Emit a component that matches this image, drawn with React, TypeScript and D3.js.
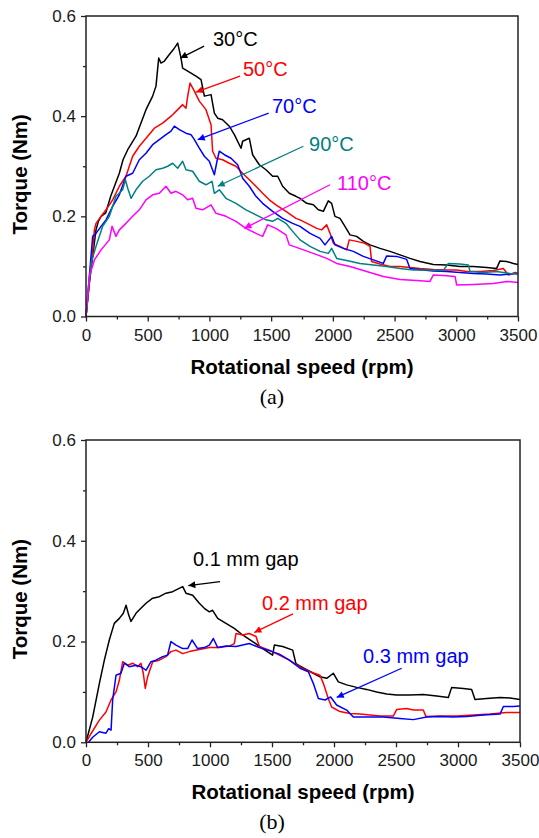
import React, { useEffect, useRef } from "react";
import * as d3 from "d3";

type Pt = [number, number];

// axis ticks
const rpmTicks = [0, 500, 1000, 1500, 2000, 2500, 3000, 3500];
const rpmMinor = [250, 750, 1250, 1750, 2250, 2750, 3250];
const torqueTicks = [0, 0.2, 0.4, 0.6];
const torqueMinor = [0.1, 0.3, 0.5];

// (a) torque vs speed at different temperatures  [rpm, Nm]
const temp30: Pt[] = [[0,0],[27,0.066],[54,0.12],[81,0.173],[100,0.19],[122,0.2],[160,0.207],[200,0.24],[270,0.286],[300,0.313],[338,0.333],[405,0.36],[486,0.413],[540,0.44],[567,0.46],[589,0.516],[608,0.506],[635,0.51],[675,0.523],[708,0.533],[743,0.546],[770,0.516],[783,0.496],[824,0.49],[891,0.48],[932,0.473],[959,0.44],[1013,0.443],[1040,0.406],[1067,0.396],[1107,0.393],[1161,0.38],[1202,0.363],[1256,0.336],[1269,0.35],[1323,0.356],[1350,0.323],[1404,0.303],[1458,0.293],[1512,0.28],[1553,0.28],[1593,0.26],[1647,0.246],[1701,0.24],[1734,0.236],[1788,0.226],[1842,0.223],[1882,0.213],[1923,0.21],[1963,0.231],[1990,0.226],[2017,0.2],[2058,0.196],[2098,0.18],[2139,0.163],[2193,0.16],[2247,0.15],[2301,0.143],[2382,0.136],[2463,0.13],[2544,0.123],[2625,0.116],[2706,0.11],[2814,0.104],[2922,0.103],[3030,0.1],[3138,0.1],[3246,0.098],[3327,0.096],[3354,0.111],[3408,0.11],[3462,0.106],[3500,0.104]];
const temp50: Pt[] = [[0,0],[27,0.07],[54,0.13],[68,0.173],[81,0.186],[122,0.2],[162,0.213],[216,0.233],[270,0.26],[324,0.28],[378,0.32],[432,0.34],[500,0.36],[554,0.376],[621,0.386],[689,0.4],[743,0.413],[783,0.423],[810,0.416],[824,0.44],[843,0.466],[878,0.45],[918,0.43],[972,0.413],[1013,0.383],[1026,0.33],[1053,0.316],[1107,0.313],[1161,0.306],[1215,0.3],[1269,0.286],[1323,0.273],[1377,0.26],[1431,0.246],[1485,0.233],[1539,0.223],[1620,0.21],[1701,0.196],[1734,0.193],[1815,0.183],[1869,0.176],[1909,0.173],[1950,0.183],[1977,0.166],[2004,0.146],[2058,0.14],[2112,0.133],[2133,0.153],[2193,0.15],[2260,0.146],[2301,0.14],[2314,0.11],[2382,0.105],[2463,0.1],[2544,0.1],[2625,0.098],[2706,0.096],[2814,0.094],[2922,0.093],[3003,0.093],[3084,0.09],[3192,0.09],[3300,0.092],[3381,0.096],[3422,0.083],[3476,0.088],[3500,0.086]];
const temp70: Pt[] = [[0,0],[27,0.08],[54,0.16],[81,0.166],[122,0.18],[162,0.193],[216,0.22],[270,0.243],[324,0.28],[378,0.286],[432,0.313],[486,0.326],[540,0.343],[594,0.353],[648,0.363],[689,0.37],[716,0.38],[756,0.373],[810,0.366],[851,0.363],[878,0.353],[918,0.336],[959,0.32],[999,0.31],[1040,0.283],[1061,0.31],[1080,0.33],[1121,0.323],[1175,0.316],[1229,0.303],[1269,0.276],[1323,0.26],[1377,0.24],[1431,0.226],[1512,0.21],[1593,0.196],[1674,0.186],[1734,0.18],[1815,0.166],[1896,0.156],[1936,0.143],[1990,0.16],[2017,0.143],[2085,0.136],[2166,0.13],[2247,0.12],[2328,0.113],[2409,0.106],[2436,0.121],[2517,0.12],[2598,0.114],[2625,0.096],[2733,0.093],[2814,0.091],[2922,0.09],[3030,0.088],[3138,0.086],[3246,0.085],[3354,0.083],[3435,0.085],[3500,0.086]];
const temp90: Pt[] = [[0,0],[40,0.106],[81,0.14],[135,0.18],[189,0.2],[243,0.24],[297,0.253],[319,0.273],[338,0.256],[365,0.236],[405,0.253],[459,0.27],[513,0.28],[567,0.293],[621,0.296],[662,0.3],[702,0.306],[743,0.296],[783,0.31],[810,0.293],[864,0.29],[918,0.27],[972,0.263],[1021,0.27],[1040,0.246],[1080,0.253],[1134,0.236],[1215,0.226],[1296,0.213],[1377,0.203],[1458,0.193],[1512,0.19],[1553,0.196],[1620,0.186],[1674,0.17],[1734,0.153],[1815,0.14],[1896,0.13],[1963,0.126],[1990,0.136],[2031,0.116],[2112,0.112],[2220,0.106],[2328,0.103],[2436,0.1],[2544,0.096],[2652,0.093],[2760,0.093],[2895,0.092],[2936,0.106],[3030,0.105],[3098,0.103],[3111,0.09],[3219,0.088],[3327,0.09],[3435,0.086],[3500,0.085]];
const temp110: Pt[] = [[0,0],[27,0.08],[68,0.113],[122,0.133],[189,0.153],[211,0.18],[243,0.16],[270,0.173],[324,0.186],[378,0.2],[432,0.213],[486,0.233],[540,0.243],[594,0.246],[648,0.26],[689,0.246],[729,0.25],[783,0.243],[824,0.233],[864,0.236],[891,0.216],[945,0.213],[1013,0.223],[1053,0.206],[1134,0.2],[1215,0.19],[1296,0.176],[1377,0.166],[1431,0.16],[1472,0.183],[1539,0.176],[1620,0.163],[1647,0.143],[1728,0.136],[1842,0.126],[1950,0.116],[2031,0.106],[2139,0.1],[2274,0.09],[2409,0.08],[2544,0.074],[2679,0.072],[2787,0.07],[2814,0.083],[2895,0.082],[2990,0.08],[3003,0.063],[3138,0.064],[3300,0.066],[3408,0.07],[3500,0.068]];

// (b) torque vs speed at different gaps
const gap01: Pt[] = [[0,0],[54,0.05],[108,0.117],[148,0.163],[188,0.203],[228,0.236],[269,0.246],[301,0.256],[323,0.272],[344,0.253],[363,0.24],[403,0.256],[443,0.266],[484,0.276],[538,0.286],[591,0.289],[645,0.296],[699,0.299],[739,0.304],[780,0.309],[806,0.296],[860,0.292],[914,0.276],[954,0.266],[995,0.259],[1021,0.262],[1062,0.246],[1129,0.236],[1196,0.226],[1263,0.213],[1344,0.2],[1425,0.186],[1505,0.173],[1519,0.193],[1586,0.19],[1667,0.183],[1693,0.156],[1720,0.152],[1780,0.144],[1833,0.137],[1887,0.13],[1941,0.127],[1995,0.137],[2035,0.12],[2102,0.114],[2183,0.109],[2263,0.105],[2344,0.1],[2425,0.096],[2505,0.094],[2613,0.094],[2720,0.095],[2828,0.092],[2922,0.089],[2949,0.109],[3043,0.107],[3110,0.105],[3137,0.085],[3231,0.087],[3339,0.089],[3419,0.088],[3500,0.085]];
const gap02: Pt[] = [[0,0],[40,0.017],[108,0.044],[161,0.06],[202,0.084],[242,0.1],[269,0.123],[296,0.16],[336,0.153],[376,0.157],[417,0.15],[443,0.157],[462,0.137],[478,0.107],[497,0.13],[538,0.16],[591,0.163],[645,0.17],[685,0.18],[726,0.183],[780,0.176],[833,0.18],[914,0.184],[995,0.188],[1075,0.188],[1156,0.191],[1196,0.196],[1210,0.216],[1263,0.213],[1317,0.216],[1371,0.21],[1398,0.19],[1478,0.183],[1559,0.173],[1640,0.163],[1720,0.15],[1806,0.14],[1887,0.133],[1914,0.117],[1954,0.087],[1981,0.07],[2048,0.061],[2129,0.057],[2210,0.056],[2290,0.054],[2371,0.052],[2478,0.052],[2505,0.065],[2586,0.067],[2640,0.064],[2720,0.064],[2742,0.051],[2855,0.052],[2989,0.052],[3124,0.054],[3258,0.056],[3392,0.059],[3500,0.059]];
const gap03: Pt[] = [[20,0],[54,0.01],[108,0.021],[161,0.018],[183,0.027],[202,0.024],[215,0.084],[242,0.133],[282,0.137],[309,0.157],[349,0.15],[403,0.153],[443,0.15],[484,0.143],[524,0.16],[564,0.163],[618,0.17],[658,0.173],[685,0.2],[726,0.193],[780,0.186],[820,0.186],[855,0.203],[900,0.186],[954,0.188],[995,0.193],[1027,0.206],[1062,0.188],[1129,0.191],[1210,0.19],[1317,0.196],[1398,0.188],[1478,0.182],[1559,0.175],[1640,0.163],[1726,0.147],[1793,0.14],[1833,0.117],[1874,0.087],[1928,0.084],[1973,0.09],[2021,0.074],[2102,0.064],[2156,0.05],[2263,0.05],[2398,0.05],[2532,0.047],[2640,0.045],[2747,0.05],[2855,0.051],[2962,0.05],[3070,0.051],[3204,0.054],[3339,0.056],[3366,0.071],[3446,0.071],[3500,0.072]];

// labels + arrows, in data units: text at, arrow from, arrow to
const tempNotes = [
  { text: "30°C", color: "#000000", at: [1029, 0.541], from: [957, 0.54], to: [764, 0.516] },
  { text: "50°C", color: "#ff0000", at: [1272, 0.481], from: [1248, 0.48], to: [891, 0.448] },
  { text: "70°C", color: "#0000ff", at: [1507, 0.407], from: [1480, 0.406], to: [905, 0.353] },
  { text: "90°C", color: "#008080", at: [1807, 0.331], from: [1761, 0.34], to: [1067, 0.26] },
  { text: "110°C", color: "#ff00ff", at: [2034, 0.253], from: [1977, 0.263], to: [1283, 0.176] },
];
const gapNotes = [
  { text: "0.1 mm gap", color: "#000000", at: [863, 0.35], from: [1081, 0.319], to: [825, 0.311] },
  { text: "0.2 mm gap", color: "#ff0000", at: [1419, 0.263], from: [1669, 0.255], to: [1357, 0.218] },
  { text: "0.3 mm gap", color: "#0000ff", at: [2234, 0.157], from: [2546, 0.147], to: [2022, 0.089] },
];

const sans = "'Liberation Sans', Arial, Helvetica, sans-serif";
const serif = "'Liberation Serif', 'Times New Roman', serif";

function drawPanel(svg, defs, box, series, notes, caption) {
  const x = d3.scaleLinear().domain([0, 3500]).range([box.left, box.right]);
  const y = d3.scaleLinear().domain([0, 0.6]).range([box.bottom, box.top]);
  const g = svg.append("g");

  const line = d3.line<Pt>().x((d) => x(d[0])).y((d) => y(d[1]));
  series.forEach((s) => {
    g.append("path")
      .datum(s.data)
      .attr("fill", "none")
      .attr("stroke", s.color)
      .attr("stroke-width", 1.5)
      .attr("stroke-linejoin", "round")
      .attr("d", line);
  });

  // axes
  const xa = g.append("g").attr("transform", `translate(0,${box.bottom})`)
    .call(d3.axisBottom(x).tickValues(rpmTicks).tickSize(5).tickPadding(7).tickFormat(d3.format("d")));
  const xm = g.append("g").attr("transform", `translate(0,${box.bottom})`)
    .call(d3.axisBottom(x).tickValues(rpmMinor).tickSize(3).tickFormat(() => ""));
  const ya = g.append("g").attr("transform", `translate(${box.left},0)`)
    .call(d3.axisLeft(y).tickValues(torqueTicks).tickSize(5).tickPadding(5).tickFormat(d3.format(".1f")));
  const ym = g.append("g").attr("transform", `translate(${box.left},0)`)
    .call(d3.axisLeft(y).tickValues(torqueMinor).tickSize(3).tickFormat(() => ""));
  [xa, xm, ya, ym].forEach((a) => {
    a.select(".domain").remove();
    a.selectAll("line").attr("stroke", "#222").attr("stroke-width", 1.3);
    a.selectAll("text").attr("font-family", sans).attr("font-size", 17).attr("fill", "#1a1a1a");
  });

  g.append("rect")
    .attr("x", box.left).attr("y", box.top)
    .attr("width", box.right - box.left).attr("height", box.bottom - box.top)
    .attr("fill", "none").attr("stroke", "#222").attr("stroke-width", 1.5);

  // axis titles
  g.append("text")
    .attr("x", (box.left + box.right) / 2).attr("y", box.bottom + 57)
    .attr("text-anchor", "middle").attr("font-family", sans).attr("font-weight", "bold")
    .attr("font-size", 20.5).text("Rotational speed (rpm)");
  g.append("text")
    .attr("transform", `translate(27,${(box.top + box.bottom) / 2 + 8}) rotate(-90)`)
    .attr("text-anchor", "middle").attr("font-family", sans).attr("font-weight", "bold")
    .attr("font-size", 20.5).text("Torque (Nm)");

  g.append("text")
    .attr("x", 272).attr("y", box.bottom + 87)
    .attr("text-anchor", "middle").attr("font-family", serif)
    .attr("font-size", 22).text(caption);

  // annotations
  notes.forEach((n, i) => {
    const id = `arr-${caption.replace(/\W/g, "")}-${i}`;
    defs.append("marker")
      .attr("id", id).attr("viewBox", "0 0 10 10").attr("refX", 10).attr("refY", 5)
      .attr("markerWidth", 9).attr("markerHeight", 7).attr("markerUnits", "userSpaceOnUse")
      .attr("orient", "auto")
      .append("path").attr("d", "M0,0L10,5L0,10z").attr("fill", n.color);
    g.append("line")
      .attr("x1", x(n.from[0])).attr("y1", y(n.from[1]))
      .attr("x2", x(n.to[0])).attr("y2", y(n.to[1]))
      .attr("stroke", n.color).attr("stroke-width", 1.3)
      .attr("marker-end", `url(#${id})`);
    g.append("text")
      .attr("x", x(n.at[0])).attr("y", y(n.at[1]))
      .attr("font-family", sans).attr("font-size", 20).attr("fill", n.color)
      .text(n.text);
  });
}

export default function App() {
  const ref = useRef<SVGSVGElement>(null);

  useEffect(() => {
    const svg = d3.select(ref.current);
    svg.selectAll("*").remove();
    const defs = svg.append("defs");

    drawPanel(svg, defs, { left: 86, right: 518, top: 16, bottom: 316.5 }, [
      { color: "#000000", data: temp30 },
      { color: "#ff0000", data: temp50 },
      { color: "#0000ff", data: temp70 },
      { color: "#008080", data: temp90 },
      { color: "#ff00ff", data: temp110 },
    ], tempNotes, "(a)");

    drawPanel(svg, defs, { left: 86, right: 520, top: 440, bottom: 742.3 }, [
      { color: "#000000", data: gap01 },
      { color: "#ff0000", data: gap02 },
      { color: "#0000ff", data: gap03 },
    ], gapNotes, "(b)");
  }, []);

  return (
    <svg
      ref={ref}
      width={539}
      height={838}
      style={{ position: "absolute", left: 0, top: 0, background: "#fff" }}
    />
  );
}
